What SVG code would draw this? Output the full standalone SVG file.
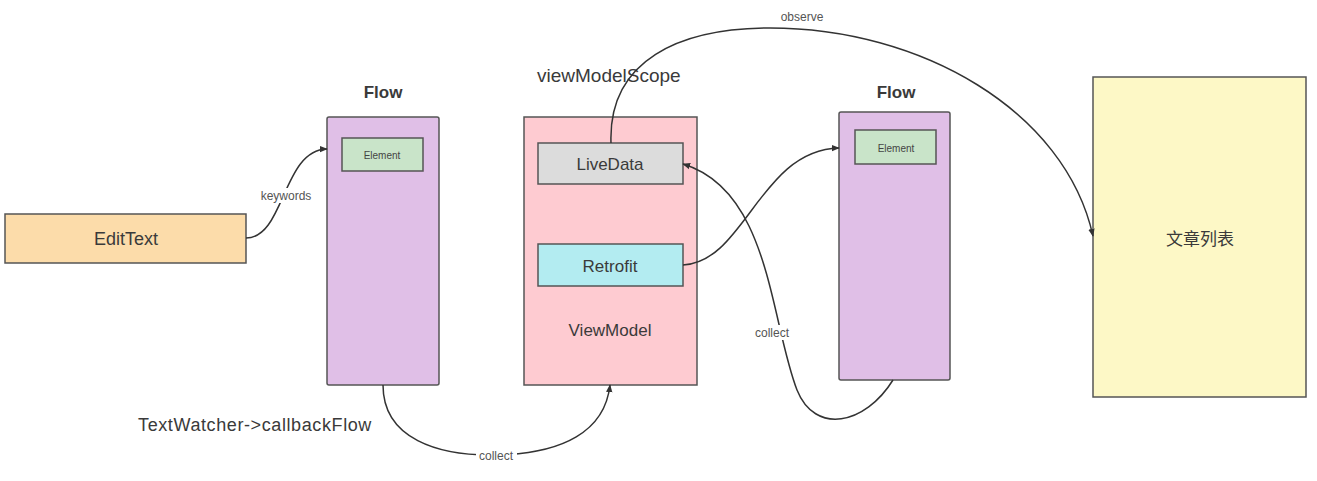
<svg xmlns="http://www.w3.org/2000/svg" width="1317" height="481" viewBox="0 0 1317 481">
<defs>
<style>
.box{stroke:#555;stroke-width:1.5}
.t{font-family:"Liberation Sans","Noto Sans CJK SC",sans-serif;fill:#3a3a3a;text-anchor:middle}
.big{font-size:17px}
.title{font-size:17px;font-weight:bold}
.el{font-size:10px;fill:#444}
.lbl{font-size:12px;fill:#555}
.edge{fill:none;stroke:#333;stroke-width:1.5}
.lblbg{fill:#fff}
</style>
<marker id="arr" viewBox="0 0 10 10" refX="9" refY="5" markerWidth="8" markerHeight="8" orient="auto-start-reverse" markerUnits="userSpaceOnUse">
<path d="M0,1 L10,5 L0,9 Z" fill="#333"/>
</marker>
</defs>
<rect width="1317" height="481" fill="#fff"/>

<g id="edittext">
<rect class="box" x="5" y="214" width="241" height="49" fill="#fcdcaa"/>
<text class="t big" x="126" y="245" style="font-size:18px">EditText</text>
</g>

<g id="flow1">
<text class="t title" x="383" y="98">Flow</text>
<rect class="box" x="327" y="117" width="112" height="268" rx="2" fill="#e0bfe7"/>
<rect class="box" x="342" y="138" width="81" height="33" fill="#c9e4c9"/>
<text class="t el" x="382" y="159">Element</text>
</g>

<g id="viewmodel">
<text class="t big" x="537" y="82" style="text-anchor:start;font-size:19px">viewModelScope</text>
<rect class="box" x="524" y="117" width="173" height="268" fill="#fecbd1"/>
<rect class="box" x="538" y="143" width="145" height="41" fill="#dcdcdc"/>
<text class="t big" x="610" y="170">LiveData</text>
<rect class="box" x="538" y="244" width="145" height="42" fill="#b3ecf1"/>
<text class="t big" x="610" y="272">Retrofit</text>
<text class="t big" x="610" y="336">ViewModel</text>
</g>

<g id="flow2">
<text class="t title" x="896" y="98">Flow</text>
<rect class="box" x="839" y="112" width="111" height="268" rx="2" fill="#e0bfe7"/>
<rect class="box" x="855" y="130" width="81" height="34" fill="#c9e4c9"/>
<text class="t el" x="896" y="152">Element</text>
</g>

<g id="articlelist">
<rect class="box" x="1093" y="77" width="213" height="320" fill="#fdf8c6"/>
<text class="t big" x="1200" y="245">文章列表</text>
</g>

<text class="t big" x="255" y="431" style="font-size:18px;letter-spacing:0.6px">TextWatcher-&gt;callbackFlow</text>

<g id="connectors">
<path class="edge" d="M246,238 C285,238 282,150 327,149" marker-end="url(#arr)"/>
<rect class="lblbg" x="258" y="188" width="57" height="15"/>
<text class="t lbl" x="286" y="200">keywords</text>

<path class="edge" d="M611,143 C608,60 680,28 770,28 C920,28 1065,110 1093,236" marker-end="url(#arr)"/>
<text class="t lbl" x="802" y="21">observe</text>

<path class="edge" d="M683,265 C745,262 760,150 839,148" marker-end="url(#arr)"/>

<path class="edge" d="M893,380 C865,425 815,435 797,390 C770,320 770,190 683,164" marker-end="url(#arr)"/>
<rect class="lblbg" x="752" y="325" width="41" height="15"/>
<text class="t lbl" x="772" y="337">collect</text>

<path class="edge" d="M383,385 C383,440 440,455 490,455 C565,455 605,430 610,385" marker-end="url(#arr)"/>
<rect class="lblbg" x="476" y="448" width="41" height="15"/>
<text class="t lbl" x="496" y="460">collect</text>
</g>
</svg>
